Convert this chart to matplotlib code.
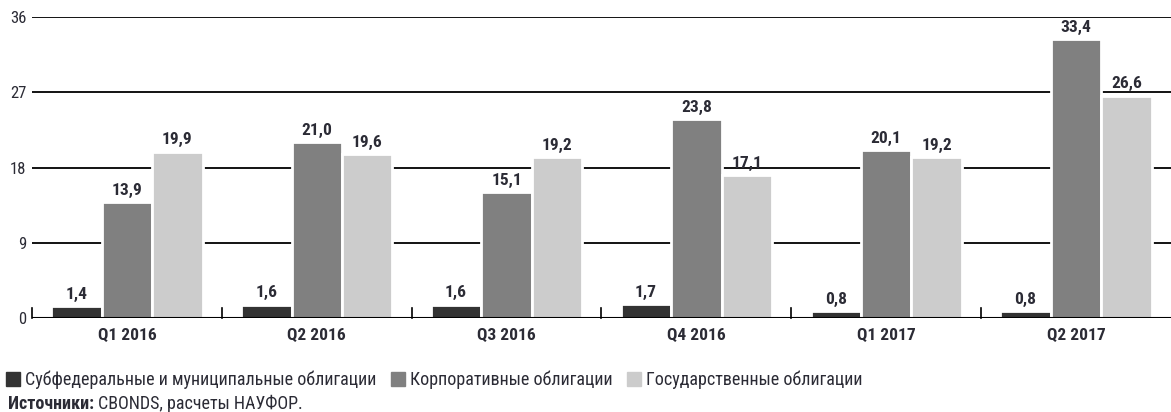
import matplotlib
matplotlib.use("Agg")
import matplotlib.pyplot as plt
import matplotlib.font_manager as fm
import numpy as np
from matplotlib.patches import Rectangle

available = {f.name for f in fm.fontManager.ttflist}
condensed_dejavu = any("DejaVuSansCondensed" in f.fname for f in fm.fontManager.ttflist)
family = None
stretch = "normal"
for cand in ["Liberation Sans Narrow", "Roboto Condensed", "Open Sans Condensed",
             "Noto Sans Condensed", "Noto Sans Display Condensed", "DejaVu Sans Condensed"]:
    if cand in available:
        family = cand
        break
if family is None:
    if condensed_dejavu:
        family = "DejaVu Sans"
        stretch = "condensed"
    else:
        family = "Roboto"
plt.rcParams['font.family'] = [family, 'DejaVu Sans']
plt.rcParams['font.stretch'] = stretch

categories = ["Q1 2016", "Q2 2016", "Q3 2016", "Q4 2016", "Q1 2017", "Q2 2017"]
series_names = ["Субфедеральные и муниципальные облигации",
                "Корпоративные облигации",
                "Государственные облигации"]
subfed = [1.4, 1.6, 1.6, 1.7, 0.8, 0.8]
corp = [13.9, 21.0, 15.1, 23.8, 20.1, 33.4]
gov = [19.9, 19.6, 19.2, 17.1, 19.2, 26.6]
yticks = [0, 9, 18, 27, 36]
colors = ["#333333", "#808080", "#cccccc"]
text_color = "#2b2b35"

fig = plt.figure(figsize=(11.71, 4.12), dpi=100)
ax = fig.add_axes([32/1171, 1 - 318/412, 1 - 32/1171, (318 - 17)/412])

x = np.arange(len(categories))
w = 0.266
for i, (vals, c) in enumerate(zip([subfed, corp, gov], colors)):
    pos = x + (i - 1) * w
    ax.bar(pos, vals, width=w, color=c, edgecolor="white", linewidth=2.0, zorder=3)
    for p, v in zip(pos, vals):
        ax.annotate(f"{v:.1f}".replace(".", ","), (p, v), xytext=(0, 3),
                    textcoords="offset points", ha="center", va="bottom",
                    fontsize=12.5, fontweight="bold", color=text_color, zorder=4)

ax.set_xlim(-0.5, len(categories) - 0.5)
ax.set_ylim(0, 36)
ax.set_yticks(yticks)
ax.set_yticklabels([str(t) for t in yticks], fontsize=12, color=text_color)
for t in yticks[1:]:
    ax.axhline(t, color="black", linewidth=1.3, zorder=1)
ax.axhline(0, color="black", linewidth=1.5, zorder=5)
for b in np.arange(-0.5, len(categories) - 0.5, 1.0):
    ax.plot([b, b], [0, 1.2], color="black", linewidth=1.2, zorder=5, clip_on=False)

ax.set_xticks(x)
ax.set_xticklabels(categories, fontsize=12.5, fontweight="bold", color=text_color)
ax.tick_params(axis="x", length=0, pad=7)
ax.tick_params(axis="y", length=0, pad=4)
for s in ax.spines.values():
    s.set_visible(False)

handles = [Rectangle((0, 0), 1, 1, color=c) for c in colors]
leg = fig.legend(handles, series_names, loc="center left",
                 bbox_to_anchor=(6/1171, 1 - 380/412), bbox_transform=fig.transFigure,
                 ncol=3, frameon=False, fontsize=13,
                 handlelength=0.8, handleheight=0.8, handletextpad=0.25, columnspacing=0.8,
                 borderaxespad=0, borderpad=0)
for t in leg.get_texts():
    t.set_color(text_color)

t1 = fig.text(8/1171, 1 - 404/412, "Источники:", fontsize=13, fontweight="bold",
              color=text_color, va="center", ha="left")
fig.canvas.draw()
bb = t1.get_window_extent(renderer=fig.canvas.get_renderer())
fig.text((bb.x1 + 4) / fig.bbox.width, 1 - 404/412, "CBONDS, расчеты НАУФОР.", fontsize=13,
         color=text_color, va="center", ha="left")

fig.savefig("out.png", dpi=100, facecolor="white")
